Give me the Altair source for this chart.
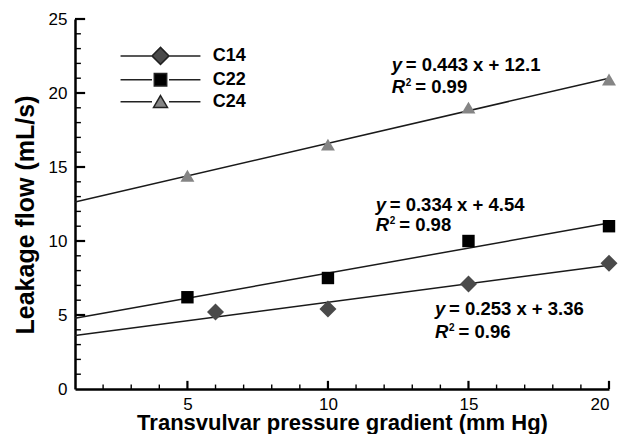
import altair as alt
import pandas as pd

FONT = "Liberation Sans"

# ---- data ----
series_names = ["C14", "C22", "C24"]
c14_x = [6, 10, 15, 20]
c14_y = [5.2, 5.4, 7.1, 8.5]
c22_x = [5, 10, 15, 20]
c22_y = [6.2, 7.5, 10.0, 11.0]
c24_x = [5, 10, 15, 20]
c24_y = [14.4, 16.5, 19.0, 20.9]

slopes = [0.253, 0.334, 0.443]
intercepts = [3.36, 4.54, 12.1]
r_squared = [0.96, 0.98, 0.99]

# annotation anchors (data units)
label_x = [13.81, 11.70, 12.27]
label_y1 = [5.0, 12.03, 21.49]
label_y2 = [3.45, 10.68, 20.0]

x_major = [5, 10, 15, 20]
x_minor = [2, 3, 4, 6, 7, 8, 9, 11, 12, 13, 14, 16, 17, 18, 19]
y_labels = [0, 5, 10, 15, 20, 25]
y_major = [5, 10, 15, 20, 25]
y_minor = [1, 2, 3, 4, 6, 7, 8, 9, 11, 12, 13, 14, 16, 17, 18, 19, 21, 22, 23, 24]

# ---- tables ----
points = pd.DataFrame({
    "series": ["C14"] * len(c14_x) + ["C22"] * len(c22_x) + ["C24"] * len(c24_x),
    "x": c14_x + c22_x + c24_x,
    "y": c14_y + c22_y + c24_y,
})
ann = pd.DataFrame({
    "series": series_names,
    "lx": label_x,
    "ly1": label_y1,
    "ly2": label_y2,
    "eq": [f"= {s} x + {b}" for s, b in zip(slopes, intercepts)],
    "r2": [f"= {r:.2f}" for r in r_squared],
})

xs = alt.Scale(domain=[1, 20], nice=False, zero=False, padding=0)
ys = alt.Scale(domain=[0, 25], nice=False, zero=True, padding=0)

x_axis = alt.Axis(
    values=x_major, format="d", labelPadding=7,
    title="Transvulvar pressure gradient (mm Hg)", titleFontSize=22,
    titleY=40, titleBaseline="alphabetic")
y_axis = alt.Axis(
    values=y_labels, format="d", labelPadding=8,
    title="Leakage flow (mL/s)", titleFontSize=25,
    titleX=-50, titleY=195.5, titleBaseline="middle")


def X(field):
    return alt.X(field, scale=xs, axis=x_axis)


def Y(field):
    return alt.Y(field, scale=ys, axis=y_axis)


def Xd(field):
    return alt.X(field, scale=xs)


def Yd(field):
    return alt.Y(field, scale=ys)


colors = ["#4a4a4a", "#000000", "#858585"]
marker_paths = [
    "M0,-1L1,0L0,1L-1,0Z",
    "M-0.73,-0.73L0.73,-0.73L0.73,0.73L-0.73,0.73Z",
    "M0,-0.72L0.82,0.68L-0.82,0.68Z",
]
legend_paths = [p + "M-4.7,0L-1,0M1,0L4.7,0" for p in marker_paths]

base = alt.Chart(points)

fit = base.transform_regression(
    "x", "y", groupby=["series"], extent=[1, 20]
).mark_line(color="#1a1a1a", strokeWidth=1.5).encode(
    x=X("x:Q"), y=Y("y:Q"), detail="series:N",
)

pts = base.mark_point(filled=True, size=289, opacity=1, strokeWidth=0).encode(
    x=X("x:Q"), y=Y("y:Q"),
    shape=alt.Shape("series:N", scale=alt.Scale(domain=series_names, range=marker_paths), legend=None),
    color=alt.Color("series:N", scale=alt.Scale(domain=series_names, range=colors), legend=None),
)

leg_props = dict(
    orient="none", legendX=76, legendY=27.4, title=None, padding=0,
    labelFont=FONT, labelFontSize=18, labelFontWeight="bold", labelColor="black",
    labelOffset=42.7, symbolSize=289, rowPadding=2.9, symbolStrokeWidth=1.5,
)
legend_layer = base.transform_filter("false").mark_point(
    filled=True, size=289, opacity=1, stroke="#222222", strokeWidth=1.5
).encode(
    x=X("x:Q"), y=Y("y:Q"),
    shape=alt.Shape("series:N", scale=alt.Scale(domain=series_names, range=legend_paths),
                    legend=alt.Legend(**leg_props)),
    color=alt.Color("series:N", scale=alt.Scale(domain=series_names, range=colors),
                    legend=alt.Legend(**leg_props)),
)


# inward-pointing axis ticks drawn as thin bars; lengths in data units (~8/4.5 px, ~10/6 px)
def x_ticks(vals, length, width):
    return alt.Chart(pd.DataFrame({"tx": vals})).transform_calculate(
        t1="0", t2=str(length)
    ).mark_bar(color="black", width=width, orient="vertical").encode(
        x=Xd("tx:Q"), y=Yd("t1:Q"), y2="t2:Q")


def y_ticks(vals, length, width):
    return alt.Chart(pd.DataFrame({"ty": vals})).transform_calculate(
        t1="1", t2=str(1 + length)
    ).mark_bar(color="black", height=width, orient="horizontal").encode(
        y=Yd("ty:Q"), x=Xd("t1:Q"), x2="t2:Q")


tick_layers = [
    x_ticks(x_major, 0.55, 2.2),
    x_ticks(x_minor, 0.3, 1.4),
    y_ticks(y_major, 0.36, 2.2),
    y_ticks(y_minor, 0.21, 1.4),
]

abase = alt.Chart(ann)
tfont = dict(font=FONT, fontWeight="bold", color="black", align="left", baseline="alphabetic")
t_y = abase.mark_text(text="y", fontSize=18.5, fontStyle="italic", **tfont).encode(
    x=Xd("lx:Q"), y=Yd("ly1:Q"))
t_eq = abase.mark_text(fontSize=18.5, dx=14, **tfont).encode(
    x=Xd("lx:Q"), y=Yd("ly1:Q"), text="eq:N")
t_R = abase.mark_text(text="R", fontSize=18.5, fontStyle="italic", **tfont).encode(
    x=Xd("lx:Q"), y=Yd("ly2:Q"))
t_2 = abase.mark_text(text="2", fontSize=10, dx=14, dy=-7, **tfont).encode(
    x=Xd("lx:Q"), y=Yd("ly2:Q"))
t_r2 = abase.mark_text(fontSize=18.5, dx=23.5, **tfont).encode(
    x=Xd("lx:Q"), y=Yd("ly2:Q"), text="r2:N")

chart = alt.layer(
    fit, pts, legend_layer,
    t_y, t_eq, t_R, t_2, t_r2,
    *tick_layers,
).resolve_scale(
    shape="independent", color="independent"
).properties(
    width=534, height=370,
    autosize=alt.AutoSizeParams(type="none"),
    padding={"left": 75, "top": 19, "right": 11, "bottom": 45},
).configure(
    font=FONT,
).configure_view(
    stroke=None,
).configure_axis(
    grid=False, ticks=False, tickSize=0,
    domainColor="black", domainWidth=2.5,
    labelFont=FONT, labelFontSize=17, labelColor="black",
    titleFont=FONT, titleFontWeight="bold", titleColor="black",
)

chart.save("out.html", embed_options={"renderer": "svg", "actions": False})
